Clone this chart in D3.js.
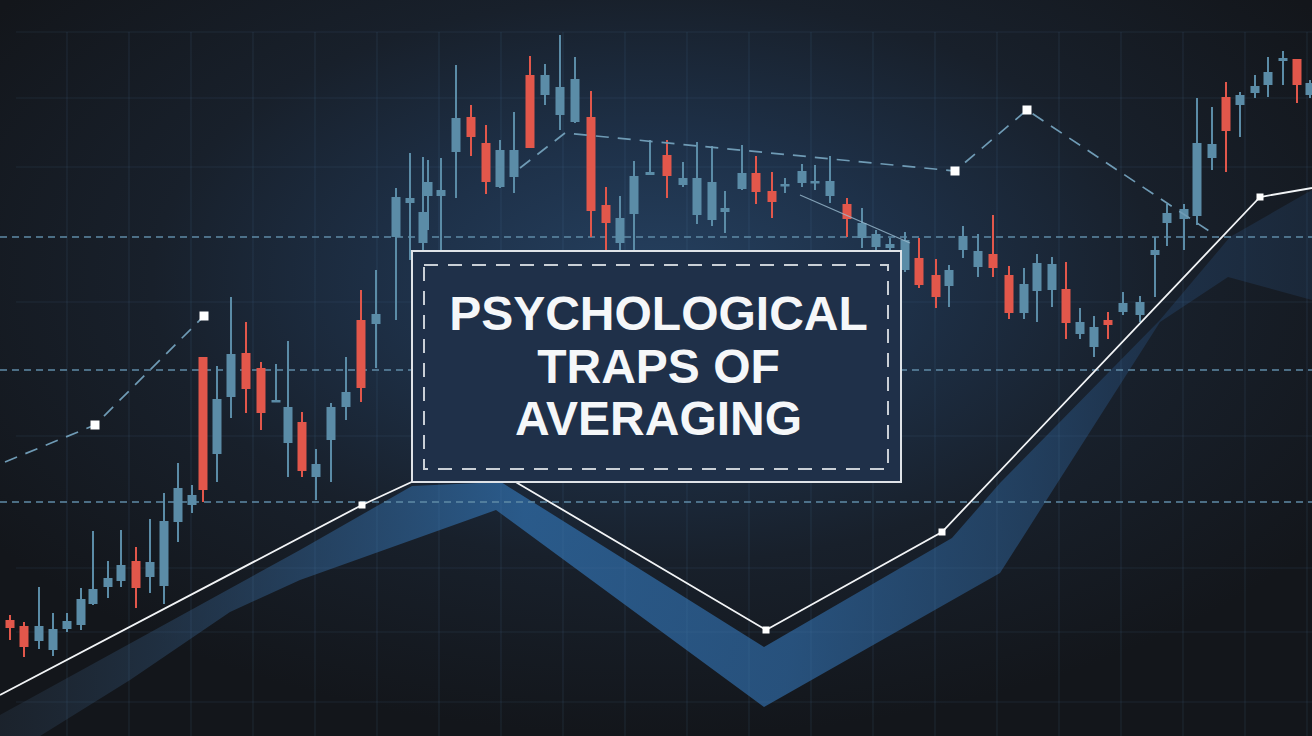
<!DOCTYPE html>
<html><head><meta charset="utf-8">
<script src="https://cdn.jsdelivr.net/npm/d3@7"></script>
<style>html,body{margin:0;padding:0;background:#14171c;overflow:hidden}</style>
</head><body>
<svg id="chart" width="1312" height="736"></svg>
<script>
// ---- DATA (time units, price levels) ----
const candleTime = [10,24,39,53,67,81,93,108,121,136,150,164,178,192,203,217,231,246,261,276,288,302,316,331,346,361,376,396,410,423,428,441,456,471,486,500,514,530,545,560,575,591,606,620,634,650,667,683,697,712,725,742,756,772,785,802,815,830,847,862,876,890,905,919,936,949,963,978,993,1009,1024,1037,1052,1066,1080,1094,1108,1123,1140,1155,1167,1184,1197,1212,1226,1240,1255,1268,1283,1297,1310];
const candleOpen = [116,110,95,86,107,111,132,149,155,175,159,150,214,231,379,282,339,383,368,334,293,314,259,296,329,416,412,499,533,493,540,540,584,619,593,549,559,661,641,621,614,619,531,493,522,561,581,551,521,516,524,547,563,545,550,553,553,540,532,498,489,488,466,478,461,450,486,469,482,461,423,445,446,447,402,389,416,424,421,481,513,517,520,578,639,631,643,651,675,677,641];
const candleClose = [108,89,110,107,115,137,147,158,171,148,174,215,248,241,246,337,382,347,323,336,329,265,272,329,344,348,422,539,538,524,554,546,618,599,554,586,586,588,661,649,657,525,513,518,560,564,560,558,558,554,528,563,544,534,552,565,555,555,517,513,502,492,496,451,439,466,500,485,468,423,452,473,472,413,414,409,411,433,434,486,523,527,593,592,605,641,650,664,678,651,653];
const candleHigh = [121,114,149,123,123,148,205,175,206,189,217,243,273,251,379,370,439,414,374,372,395,324,287,333,379,446,466,548,583,579,576,578,671,631,611,596,624,680,672,701,679,645,549,540,575,596,596,574,594,590,545,591,580,564,558,572,571,580,538,528,506,498,504,498,477,471,510,502,521,470,468,482,479,474,428,420,424,444,440,499,532,532,638,629,654,644,661,679,685,677,656];
const candleLow = [96,79,87,80,104,106,131,138,149,128,143,132,194,223,234,254,318,323,306,334,259,259,236,254,316,334,368,416,476,486,506,486,538,580,542,548,543,588,631,606,613,499,486,484,484,561,538,549,512,510,503,546,532,518,543,549,546,533,499,488,484,484,464,448,428,429,478,459,459,417,417,414,429,397,397,379,397,421,414,439,490,486,511,566,564,599,638,639,651,633,638];

const avgTime = [0,362,470,766,942,1260,1312];          // solid average line
const avgLevel = [41,231,281,106,204,539,548];
const avgMarkers = [362,766,942,1260];

const entryTime = [5,95,204];                             // lower-left dashed line
const entryLevel = [274,311,420];
const entryMarkers = [95,204];

const upperTime = [520,565,955,1027,1215];               // upper dashed line
const upperLevel = [568,603,565,626,501];
const upperMarkers = [955,1027];

const trendTime = [800,910];
const trendLevel = [541,493];

const bandTopTime = [0,300,412,501,764,952,1000,1160,1230,1312];
const bandTopLevel = [21,186,250,254,89,198,253,416,499,546];
const bandBottomTime = [1312,1228,1160,1000,764,496,300,230,130,40,0];
const bandBottomLevel = [436,459,414,163,29,226,156,124,56,0,0];

const gridTimes = [67,129,191,253,315,377,439,501,563,625,687,749,811,873,935,997,1059,1121,1183,1245,1307];
const gridLevels = [704,638,569,434,300,168,104,34];
const levelLines = [499,366,234];

const titleLines = ["PSYCHOLOGICAL","TRAPS OF","AVERAGING"];

// ---- DRAW ----
const W = 1312, H = 736;
const svg = d3.select("#chart");
const x = d3.scaleLinear().domain([0,1312]).range([0,W]);
const y = d3.scaleLinear().domain([0,736]).range([H,0]);

const defs = svg.append("defs");
const rg = defs.append("radialGradient").attr("id","bg")
  .attr("cx","50%").attr("cy","38%").attr("r","62%");
[["0%","#25405f"],["30%","#1e3149"],["62%","#18202b"],["100%","#13161b"]]
  .forEach(([o,c]) => rg.append("stop").attr("offset",o).attr("stop-color",c));
svg.append("rect").attr("width",W).attr("height",H).attr("fill","url(#bg)");

const bg = defs.append("linearGradient").attr("id","band").attr("x1","0").attr("x2","1").attr("y1","0").attr("y2","0");
[["0%","#2a3a4c",0.35],["22%","#2a4d72",0.7],["40%","#2d649a",0.85],["60%","#2c5f93",0.8],["76%","#274d75",0.75],["88%","#1f3550",0.8],["100%","#1c2b3e",0.8]]
  .forEach(([o,c,a]) => bg.append("stop").attr("offset",o).attr("stop-color",c).attr("stop-opacity",a));

// band
const bandPts = bandTopTime.map((t,i)=>[x(t),y(bandTopLevel[i])])
  .concat(bandBottomTime.map((t,i)=>[x(t),y(bandBottomLevel[i])]));
svg.append("path").attr("d", d3.line()(bandPts) + "Z").attr("fill","url(#band)");

// grid
svg.append("g").selectAll("line").data(gridTimes).join("line")
  .attr("x1",d=>x(d)).attr("x2",d=>x(d)).attr("y1",y(704)).attr("y2",H)
  .attr("stroke","#5b86b0").attr("stroke-opacity",0.14).attr("stroke-width",1.2);
svg.append("g").selectAll("line").data(gridLevels).join("line")
  .attr("x1",16).attr("x2",W).attr("y1",d=>y(d)).attr("y2",d=>y(d))
  .attr("stroke","#5b86b0").attr("stroke-opacity",0.14).attr("stroke-width",1.2);
svg.append("g").selectAll("line").data(levelLines).join("line")
  .attr("x1",0).attr("x2",W).attr("y1",d=>y(d)).attr("y2",d=>y(d))
  .attr("stroke","#5f8aa6").attr("stroke-width",1.6).attr("stroke-dasharray","7,5");

// candles
const candles = candleTime.map((t,i)=>({t,o:candleOpen[i],c:candleClose[i],h:candleHigh[i],l:candleLow[i]}));
const cg = svg.append("g");
const col = d => d.c >= d.o ? "#5b8ca7" : "#e2574b";
cg.selectAll("line").data(candles).join("line")
  .attr("x1",d=>x(d.t)).attr("x2",d=>x(d.t)).attr("y1",d=>y(d.h)).attr("y2",d=>y(d.l))
  .attr("stroke",col).attr("stroke-width",2);
cg.selectAll("rect").data(candles).join("rect")
  .attr("x",d=>x(d.t)-4.5).attr("width",9)
  .attr("y",d=>y(Math.max(d.o,d.c))).attr("height",d=>Math.max(2.5,Math.abs(y(d.o)-y(d.c))))
  .attr("fill",col);

// trend thin line
svg.append("path").attr("d",d3.line()(trendTime.map((t,i)=>[x(t),y(trendLevel[i])])))
  .attr("fill","none").attr("stroke","#9bbbd0").attr("stroke-width",1.3).attr("opacity",0.8);

// dashed lines
function dashed(times, levels){
  svg.append("path").attr("d",d3.line()(times.map((t,i)=>[x(t),y(levels[i])])))
    .attr("fill","none").attr("stroke","#6f9bb5").attr("stroke-width",1.7).attr("stroke-dasharray","13,9");
}
dashed(entryTime, entryLevel);
dashed(upperTime, upperLevel);
function markers(times, allT, allL, s){
  svg.append("g").selectAll("rect").data(times).join("rect")
    .attr("x",t=>x(t)-s/2).attr("y",t=>y(allL[allT.indexOf(t)])-s/2)
    .attr("width",s).attr("height",s).attr("fill","#ffffff");
}
markers(entryMarkers, entryTime, entryLevel, 9);
markers(upperMarkers, upperTime, upperLevel, 9);

// solid average line
svg.append("path").attr("d",d3.line()(avgTime.map((t,i)=>[x(t),y(avgLevel[i])])))
  .attr("fill","none").attr("stroke","#f2f4f6").attr("stroke-width",1.8);
markers(avgMarkers, avgTime, avgLevel, 7);

// title box
const bx0 = x(412), bx1 = x(901), by0 = 251, by1 = 482;
svg.append("rect").attr("x",bx0).attr("y",by0).attr("width",bx1-bx0).attr("height",by1-by0)
  .attr("fill","#1f3049").attr("stroke","#dfe3e8").attr("stroke-width",2);
svg.append("rect").attr("x",bx0+12).attr("y",by0+14).attr("width",bx1-bx0-25).attr("height",by1-by0-27)
  .attr("fill","none").attr("stroke","#c9cfd6").attr("stroke-width",2).attr("stroke-dasharray","14,10");
svg.append("g").selectAll("text").data(titleLines).join("text")
  .attr("x",(bx0+bx1)/2+2).attr("y",(d,i)=>330+i*52.5)
  .attr("text-anchor","middle").attr("fill","#f5f7f9")
  .attr("font-family","'Liberation Sans', Arial, sans-serif").attr("font-weight",700)
  .attr("font-size",48).text(d=>d);
</script>
</body></html>
